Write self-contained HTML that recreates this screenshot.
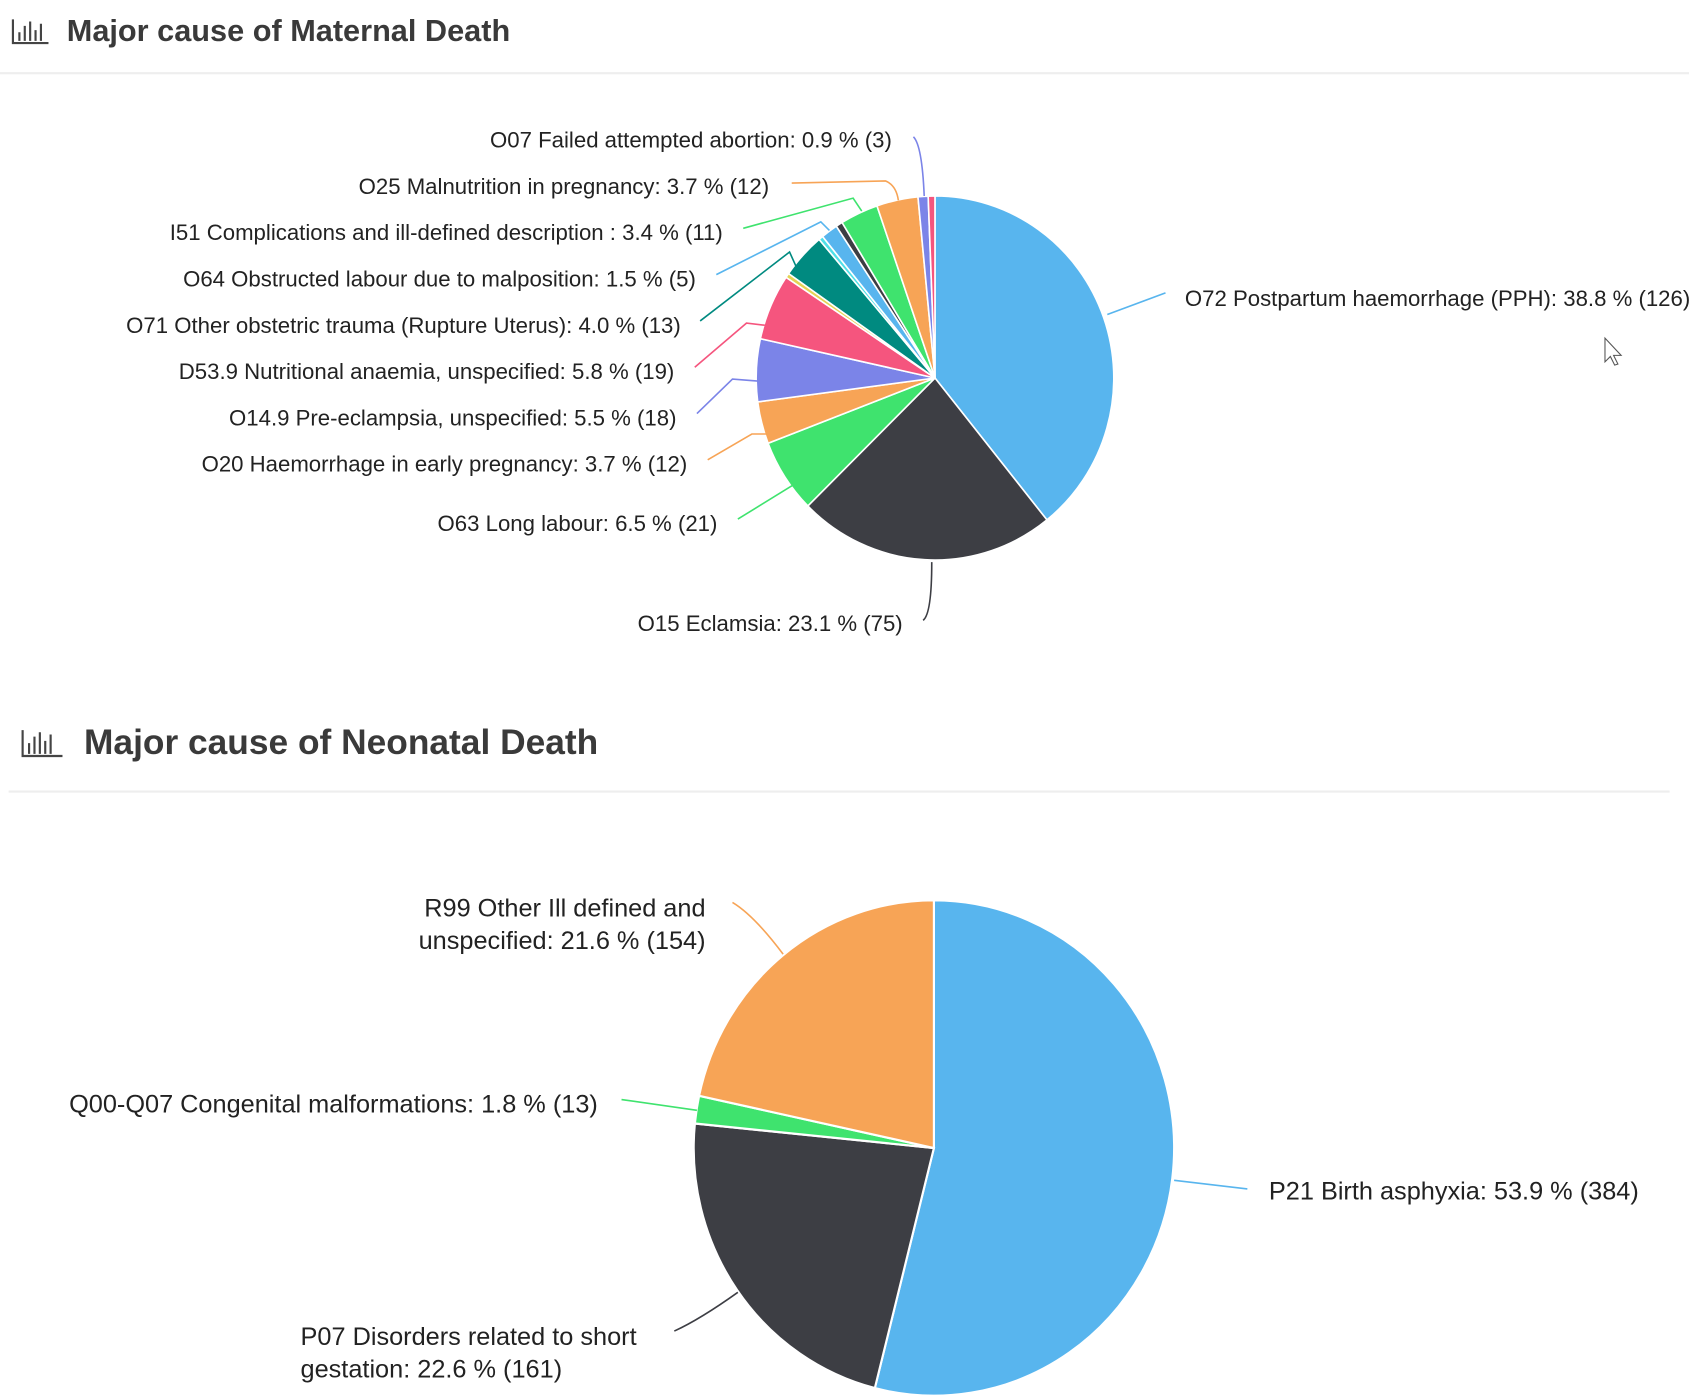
<!DOCTYPE html>
<html><head><meta charset="utf-8"><style>
html,body{margin:0;padding:0;background:#fff;}
svg{display:block;}
text{font-family:"Liberation Sans",sans-serif;fill:#222;}
</style></head><body>
<svg width="1689" height="1400" viewBox="0 0 1568 1300" preserveAspectRatio="none" xmlns="http://www.w3.org/2000/svg">
<rect width="1568" height="1300" fill="#fff"/>
<g stroke="#444" stroke-width="2" fill="none">
<path d="M12 18 V40 H45"/><path d="M18 30V38M23 24V38M28 20V38M33 28V38M38 22V38"/>
<path d="M21 678 V702 H58"/><path d="M27 690V700M32 684V700M37 680V700M42 688V700M47 682V700"/>
</g>
<text x="62" y="38" style="font-size:28.5px;font-weight:bold;fill:#3a3a3a">Major cause of Maternal Death</text>
<text x="78" y="700" style="font-size:32.8px;font-weight:bold;fill:#3a3a3a">Major cause of Neonatal Death</text>
<line x1="0" y1="68" x2="1568" y2="68" stroke="#eee" stroke-width="2"/>
<line x1="8" y1="735" x2="1550" y2="735" stroke="#eee" stroke-width="2"/>
<g id="p1" stroke="#fff" stroke-width="1.5"></g>
<g id="p2" stroke="#fff" stroke-width="2"></g>
<g fill="none" stroke-width="1.5">
<path d="M848 127 Q856 135 858 182" stroke="#7b84e8"/>
<path d="M735 170 L822 168 Q832 172 834 186" stroke="#f7a456"/>
<path d="M690 212 L792 184 L800 196" stroke="#3fe36e"/>
<path d="M665 255 L762 206 L770 214" stroke="#58b5ee"/>
<path d="M650 298 L733 234 L742 254" stroke="#008a80"/>
<path d="M645 341 L693 300 L710 302" stroke="#f5557e"/>
<path d="M647 384 L680 352 L705 354" stroke="#7b84e8"/>
<path d="M657 427 L698 403 L712 403" stroke="#f7a456"/>
<path d="M685 482 L737 450" stroke="#3fe36e"/>
<path d="M857 576 Q865 570 865 522" stroke="#3d3e44"/>
<path d="M1082 272 L1028 292" stroke="#58b5ee"/>
<path d="M680 838 Q700 850 727 886" stroke="#f7a456"/>
<path d="M577 1021 L647 1031" stroke="#3fe36e"/>
<path d="M1158 1104 L1090 1096" stroke="#58b5ee"/>
<path d="M626 1236 Q650 1225 685 1200" stroke="#3d3e44"/>
</g>
<g style="font-size:20.6px" text-anchor="end">
<text x="828" y="137">O07 Failed attempted abortion: 0.9 % (3)</text>
<text x="714" y="180">O25 Malnutrition in pregnancy: 3.7 % (12)</text>
<text x="671" y="223">I51 Complications and ill-defined description : 3.4 % (11)</text>
<text x="646" y="266">O64 Obstructed labour due to malposition: 1.5 % (5)</text>
<text x="632" y="309">O71 Other obstetric trauma (Rupture Uterus): 4.0 % (13)</text>
<text x="626" y="352">D53.9 Nutritional anaemia, unspecified: 5.8 % (19)</text>
<text x="628" y="395">O14.9 Pre-eclampsia, unspecified: 5.5 % (18)</text>
<text x="638" y="438">O20 Haemorrhage in early pregnancy: 3.7 % (12)</text>
<text x="666" y="493">O63 Long labour: 6.5 % (21)</text>
<text x="838" y="586">O15 Eclamsia: 23.1 % (75)</text>
</g>
<text x="1100" y="284" style="font-size:20.6px">O72 Postpartum haemorrhage (PPH): 38.8 % (126)</text>
<g style="font-size:23.5px">
<text x="655" y="851" text-anchor="end">R99 Other Ill defined and</text>
<text x="655" y="881" text-anchor="end">unspecified: 21.6 % (154)</text>
<text x="555" y="1033" text-anchor="end">Q00-Q07 Congenital malformations: 1.8 % (13)</text>
<text x="1178" y="1114">P21 Birth asphyxia: 53.9 % (384)</text>
<text x="279" y="1249">P07 Disorders related to short</text>
<text x="279" y="1279">gestation: 22.6 % (161)</text>
</g>
<path d="M1490 314 L1490 336 L1495 331 L1499 339 L1502 338 L1498 330 L1505 330 Z" fill="#fff" stroke="#555" stroke-width="1"/>
<script>
function pie(id,cx,cy,rx,ry,data){
 const g=document.getElementById(id);let tot=data.reduce((a,b)=>a+b[0],0),a=0;
 data.forEach(d=>{const a0=a/tot*2*Math.PI;a+=d[0];const a1=a/tot*2*Math.PI;
  const x0=cx+rx*Math.sin(a0),y0=cy-ry*Math.cos(a0),x1=cx+rx*Math.sin(a1),y1=cy-ry*Math.cos(a1);
  const p=document.createElementNS("http://www.w3.org/2000/svg","path");
  p.setAttribute("d",`M${cx} ${cy}L${x0} ${y0}A${rx} ${ry} 0 ${a1-a0>Math.PI?1:0} 1 ${x1} ${y1}Z`);
  p.setAttribute("fill",d[1]);g.appendChild(p);});
}
pie("p1",868,351,166,169,[[38.8,"#58b5ee"],[23.1,"#3d3e44"],[6.5,"#3fe36e"],[3.7,"#f7a456"],[5.5,"#7b84e8"],[5.8,"#f5557e"],[0.4,"#e4d354"],[4.0,"#008a80"],[0.4,"#4fe0e8"],[1.5,"#58b5ee"],[0.6,"#3d3e44"],[3.4,"#3fe36e"],[3.7,"#f7a456"],[0.9,"#7b84e8"],[0.6,"#f5557e"]]);
pie("p2",867,1066,223,230,[[53.9,"#58b5ee"],[22.6,"#3d3e44"],[1.8,"#3fe36e"],[21.6,"#f7a456"]]);
</script>
</svg>
</body></html>
